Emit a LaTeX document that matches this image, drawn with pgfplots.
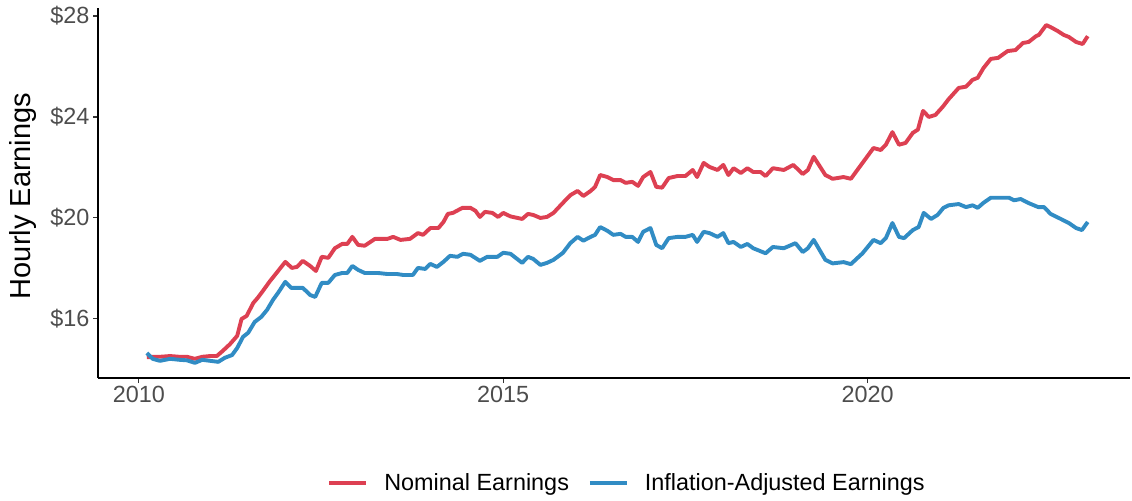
\documentclass[border=0pt]{standalone}
\usepackage{fontspec}
\setmainfont{Liberation Sans}
\usepackage{pgfplots}
\pgfplotsset{compat=1.18}
\definecolor{nomred}{RGB}{221,64,82}
\definecolor{realblue}{RGB}{49,140,196}
\definecolor{tickgray}{HTML}{4D4D4D}
\definecolor{tickmark}{HTML}{333333}
\begin{document}
\begin{tikzpicture}
\begin{axis}[
  name=ax,
  scale only axis,
  width=1032pt, height=369.6pt,
  xmin=2009.44, xmax=2023.6,
  ymin=13.66, ymax=28.3,
  axis x line=bottom, axis y line=left,
  axis line style={-, line width=1.2pt, black},
  tick align=outside,
  major tick length=5pt,
  tick style={line width=1.1pt, color=tickmark},
  xtick={2010,2015,2020},
  xticklabels={2010,2015,2020},
  ytick={16,20,24,28},
  yticklabels={\$16,\$20,\$24,\$28},
  ticklabel style={font=\fontsize{23.4}{28}\selectfont, text=tickgray},
  ylabel={Hourly Earnings},
  ylabel style={font=\fontsize{29}{34}\selectfont, at={(axis description cs:-0.0727,0.4925)}, anchor=center},
  legend columns=-1,
  legend style={draw=none, fill=none, at={(axis description cs:0.5126,-0.2846)}, anchor=center,
    font=\fontsize{23.4}{28}\selectfont,
    /tikz/every odd column/.append style={column sep=14pt},
    /tikz/every even column/.append style={column sep=17pt}},
  legend image code/.code={\draw[#1] (0pt,0pt) -- (37pt,0pt);},
  every axis plot/.append style={line width=3.9pt, line join=round},
]
\addplot[nomred] coordinates {
(2010.11,14.48) (2010.19,14.5) (2010.29,14.5) (2010.43,14.53) (2010.56,14.5) (2010.66,14.5) (2010.77,14.42) (2010.87,14.5) (2010.98,14.53) (2011.07,14.53)
(2011.15,14.73) (2011.25,15.0) (2011.35,15.33) (2011.41,16.0) (2011.48,16.12) (2011.57,16.63) (2011.63,16.83) (2011.70,17.1) (2011.80,17.5) (2011.90,17.86)
(2012.01,18.26) (2012.10,18.02) (2012.17,18.06) (2012.25,18.3) (2012.35,18.1) (2012.43,17.9) (2012.51,18.46) (2012.60,18.42) (2012.69,18.8) (2012.79,18.97)
(2012.86,18.97) (2012.93,19.25) (2013.01,18.93) (2013.10,18.9) (2013.24,19.17) (2013.41,19.17) (2013.49,19.25) (2013.59,19.13) (2013.72,19.17) (2013.83,19.4)
(2013.90,19.33) (2014.00,19.6) (2014.11,19.6) (2014.18,19.84) (2014.24,20.16) (2014.31,20.2) (2014.44,20.4) (2014.55,20.4) (2014.62,20.28) (2014.68,20.04)
(2014.75,20.24) (2014.85,20.2) (2014.93,20.04) (2015.00,20.2) (2015.10,20.06) (2015.26,19.96) (2015.34,20.16) (2015.41,20.12) (2015.51,20.0) (2015.60,20.04)
(2015.69,20.2) (2015.82,20.6) (2015.92,20.9) (2016.02,21.07) (2016.10,20.87) (2016.20,21.07) (2016.26,21.23) (2016.33,21.7) (2016.43,21.62) (2016.51,21.5)
(2016.61,21.5) (2016.68,21.39) (2016.77,21.43) (2016.85,21.27) (2016.92,21.62) (2017.02,21.82) (2017.10,21.23) (2017.18,21.2) (2017.27,21.58) (2017.39,21.66)
(2017.50,21.66) (2017.60,21.9) (2017.66,21.62) (2017.75,22.18) (2017.83,22.02) (2017.94,21.9) (2018.02,22.1) (2018.09,21.7) (2018.16,21.97) (2018.26,21.78)
(2018.35,21.97) (2018.43,21.82) (2018.53,21.82) (2018.60,21.66) (2018.70,21.97) (2018.85,21.9) (2018.98,22.1) (2019.11,21.74) (2019.18,21.9) (2019.26,22.42)
(2019.42,21.7) (2019.52,21.55) (2019.67,21.62) (2019.77,21.55) (2019.93,22.18) (2020.08,22.77) (2020.18,22.69) (2020.25,22.9) (2020.34,23.4) (2020.43,22.9)
(2020.52,22.97) (2020.62,23.37) (2020.69,23.5) (2020.76,24.24) (2020.84,24.0) (2020.93,24.08) (2021.03,24.4) (2021.11,24.7) (2021.25,25.15) (2021.35,25.2)
(2021.44,25.47) (2021.51,25.55) (2021.59,25.94) (2021.69,26.3) (2021.79,26.34) (2021.92,26.61) (2022.03,26.65) (2022.13,26.93) (2022.21,26.97) (2022.31,27.2)
(2022.35,27.25) (2022.45,27.64) (2022.51,27.56) (2022.61,27.4) (2022.69,27.25) (2022.76,27.17) (2022.86,26.97) (2022.95,26.89) (2023.02,27.2)
};
\addlegendentry{Nominal Earnings}
\addplot[realblue] coordinates {
(2010.11,14.65) (2010.19,14.42) (2010.29,14.34) (2010.43,14.42) (2010.56,14.38) (2010.66,14.36) (2010.77,14.26) (2010.87,14.38) (2010.98,14.34) (2011.09,14.3)
(2011.18,14.46) (2011.28,14.57) (2011.35,14.85) (2011.43,15.29) (2011.50,15.45) (2011.59,15.88) (2011.68,16.08) (2011.76,16.36) (2011.84,16.75) (2011.91,17.03)
(2012.01,17.47) (2012.09,17.23) (2012.17,17.23) (2012.25,17.23) (2012.35,16.95) (2012.42,16.87) (2012.51,17.43) (2012.60,17.43) (2012.69,17.74) (2012.79,17.82)
(2012.86,17.82) (2012.93,18.1) (2013.01,17.94) (2013.10,17.82) (2013.28,17.82) (2013.41,17.78) (2013.54,17.78) (2013.63,17.74) (2013.76,17.74) (2013.83,18.02)
(2013.93,17.98) (2014.00,18.18) (2014.09,18.06) (2014.18,18.26) (2014.27,18.5) (2014.37,18.46) (2014.45,18.58) (2014.55,18.54) (2014.68,18.3) (2014.78,18.46)
(2014.92,18.46) (2015.00,18.62) (2015.10,18.58) (2015.26,18.22) (2015.34,18.46) (2015.41,18.38) (2015.51,18.14) (2015.60,18.22) (2015.69,18.34) (2015.82,18.62)
(2015.92,19.0) (2016.02,19.25) (2016.10,19.1) (2016.20,19.25) (2016.26,19.33) (2016.33,19.64) (2016.43,19.49) (2016.51,19.33) (2016.61,19.37) (2016.68,19.25)
(2016.77,19.25) (2016.85,19.05) (2016.92,19.45) (2017.02,19.6) (2017.10,18.93) (2017.18,18.8) (2017.27,19.2) (2017.39,19.25) (2017.50,19.25) (2017.60,19.33)
(2017.66,19.05) (2017.75,19.45) (2017.83,19.4) (2017.94,19.25) (2018.02,19.4) (2018.09,19.0) (2018.16,19.05) (2018.26,18.85) (2018.35,18.97) (2018.43,18.8)
(2018.60,18.6) (2018.70,18.85) (2018.85,18.8) (2019.01,19.0) (2019.11,18.65) (2019.18,18.8) (2019.26,19.13) (2019.42,18.34) (2019.52,18.2) (2019.67,18.25)
(2019.77,18.17) (2019.93,18.6) (2020.08,19.13) (2020.18,19.0) (2020.25,19.2) (2020.34,19.8) (2020.43,19.25) (2020.50,19.2) (2020.62,19.52) (2020.70,19.64)
(2020.77,20.2) (2020.87,19.96) (2020.96,20.12) (2021.04,20.4) (2021.11,20.5) (2021.25,20.55) (2021.35,20.43) (2021.44,20.5) (2021.51,20.4) (2021.59,20.6)
(2021.69,20.8) (2021.79,20.8) (2021.94,20.8) (2022.01,20.7) (2022.10,20.75) (2022.20,20.6) (2022.34,20.43) (2022.42,20.43) (2022.51,20.16) (2022.65,19.96)
(2022.76,19.8) (2022.86,19.6) (2022.94,19.52) (2023.02,19.84)
};
\addlegendentry{Inflation-Adjusted Earnings}
\end{axis}
\pgfresetboundingbox
\path (ax.south west) ++(-98pt,-122pt) rectangle ([shift={(2pt,8.4pt)}]ax.north east);
\end{tikzpicture}
\end{document}
